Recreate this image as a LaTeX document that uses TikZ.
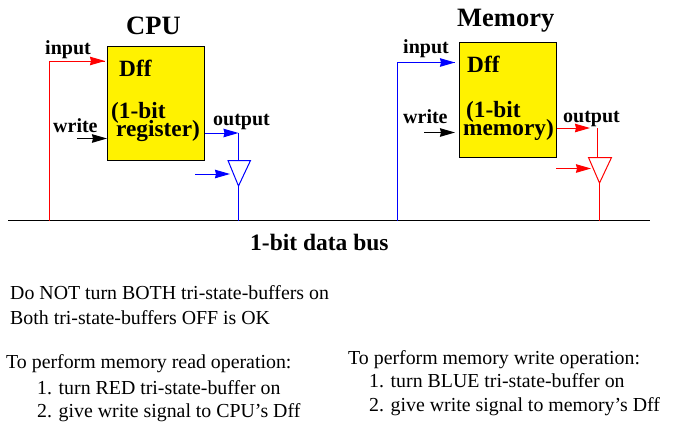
\documentclass[tikz,border=0pt]{standalone}
\usepackage{fontspec}
\setmainfont{Liberation Serif}
\usetikzlibrary{arrows.meta}
\newcommand{\tightlines}{\setlength{\lineskiplimit}{-20pt}}
\tikzset{
  wire/.style={line width=1pt},
  sig/.style={wire,-{Stealth[length=15pt,width=8.5pt,inset=1pt]}},
  dffbox/.style={draw=black,fill=yellow,line width=1pt},
  lbl/.style={anchor=base west,inner sep=0pt,font=\fontsize{20}{20}\selectfont\bfseries},
  big/.style={anchor=base west,inner sep=0pt,font=\fontsize{26.5}{26.5}\selectfont\bfseries},
  inbox/.style={anchor=base west,inner sep=0pt,align=left,font=\fontsize{23.3}{18}\selectfont\bfseries\tightlines},
  note/.style={anchor=base west,inner sep=0pt,font=\fontsize{19.85}{20}\selectfont},
}
\begin{document}
\begin{tikzpicture}[x=1pt,y=-1pt]
\useasboundingbox (0,0) rectangle (677,431);
%Boxes
\draw [dffbox] (107,46.5) rectangle (204.5,160.5);
\draw [dffbox] (459.5,42) rectangle (556.7,157);
\coordinate (cpubusl) at (8,220.5);
\coordinate (membusr) at (650,220.5);
\draw [wire] (cpubusl) -- (membusr);
%CPU side
\coordinate (cpuin0) at (49.5,220.5);
\coordinate (cpuin1) at (49.5,61);
\coordinate (cpuin2) at (105,61);
\draw [wire,red] (cpuin0) -- (cpuin1) -- (cpuin2);
\draw [sig,red] (cpuin1) -- (cpuin2);
\coordinate (cpuwr0) at (77,138.5);
\coordinate (cpuwr1) at (107,138.5);
\draw [sig] (cpuwr0) -- (cpuwr1);
\coordinate (cpuout0) at (204.5,133);
\coordinate (cpuout1) at (238.5,133);
\coordinate (cputop) at (238.5,160.5);
\coordinate (cputipp) at (238.5,186);
\coordinate (cpubus) at (238.5,220.5);
\draw [sig,blue] (cpuout0) -- (cpuout1);
\draw [wire,blue] (cpuout1) -- (cputop);
\draw [wire,blue] (228,160.5) -- (250.5,160.5) -- (cputipp) -- cycle;
\draw [wire,blue] (cputipp) -- (cpubus);
\coordinate (cpuen0) at (195,174);
\coordinate (cpuen1) at (230,174);
\draw [sig,blue] (cpuen0) -- (cpuen1);
%Memory side
\coordinate (memin0) at (397.5,220.5);
\coordinate (memin1) at (397.5,62.5);
\coordinate (memin2) at (455,62.5);
\draw [wire,blue] (memin0) -- (memin1) -- (memin2);
\draw [sig,blue] (memin1) -- (memin2);
\coordinate (memwr0) at (424,132.5);
\coordinate (memwr1) at (455,132.5);
\draw [sig] (memwr0) -- (memwr1);
\coordinate (memout0) at (556.7,128);
\coordinate (memout1) at (590,128);
\draw [sig,red] (memout0) -- (memout1);
\coordinate (memout2) at (597.5,128);
\coordinate (memtop) at (597.5,157.5);
\coordinate (memtipp) at (599.5,183);
\coordinate (membus) at (599.5,220.5);
\draw [wire,red] (memout2) -- (memtop);
\draw [wire,red] (588.5,157.5) -- (611.5,157.5) -- (memtipp) -- cycle;
\draw [wire,red] (memtipp) -- (membus);
\coordinate (memen0) at (556,168.5);
\coordinate (memen1) at (591,168.5);
\draw [sig,red] (memen0) -- (memen1);
%Text
\node (cpulbl) [big] at (126,34) {CPU};
\node (memlbl) [big] at (457,27) {Memory};
\node (cpuinlbl) [lbl] at (45,54) {input};
\node (cpuwrlbl) [lbl] at (53,132) {write};
\node (cpuoutlbl) [lbl] at (213,125) {output};
\node (cpudff) [inbox] at (119,76) {Dff};
\node (cpubit) [inbox] at (111,136) {(1-bit\\\hspace*{5pt}register)};
\node (meminlbl) [lbl] at (403,53) {input};
\node (memwrlbl) [lbl] at (403,123) {write};
\node (memoutlbl) [lbl] at (563,122) {output};
\node (memdff) [inbox] at (467,72) {Dff};
\node (membit) [inbox] at (463,135) {\hspace*{3pt}(1-bit\\memory)};
\node (buslbl) [lbl,font=\fontsize{23.5}{23.5}\selectfont\bfseries] at (250,250) {1-bit data bus};
\node (notea) [note] at (10,299) {Do NOT turn BOTH tri-state-buffers on};
\node (noteb) [note] at (10,324) {Both tri-state-buffers OFF is OK};
\node (rdhead) [note] at (6,368) {To perform memory read operation:};
\node (rdone) [note] at (37,394) {1. turn RED tri-state-buffer on};
\node (rdtwo) [note] at (37,417) {2. give write signal to CPU’s Dff};
\node (wrhead) [note] at (348,364) {To perform memory write operation:};
\node (wrone) [note] at (369,387) {1. turn BLUE tri-state-buffer on};
\node (wrtwo) [note] at (369,411) {2. give write signal to memory’s Dff};
\end{tikzpicture}
\end{document}
